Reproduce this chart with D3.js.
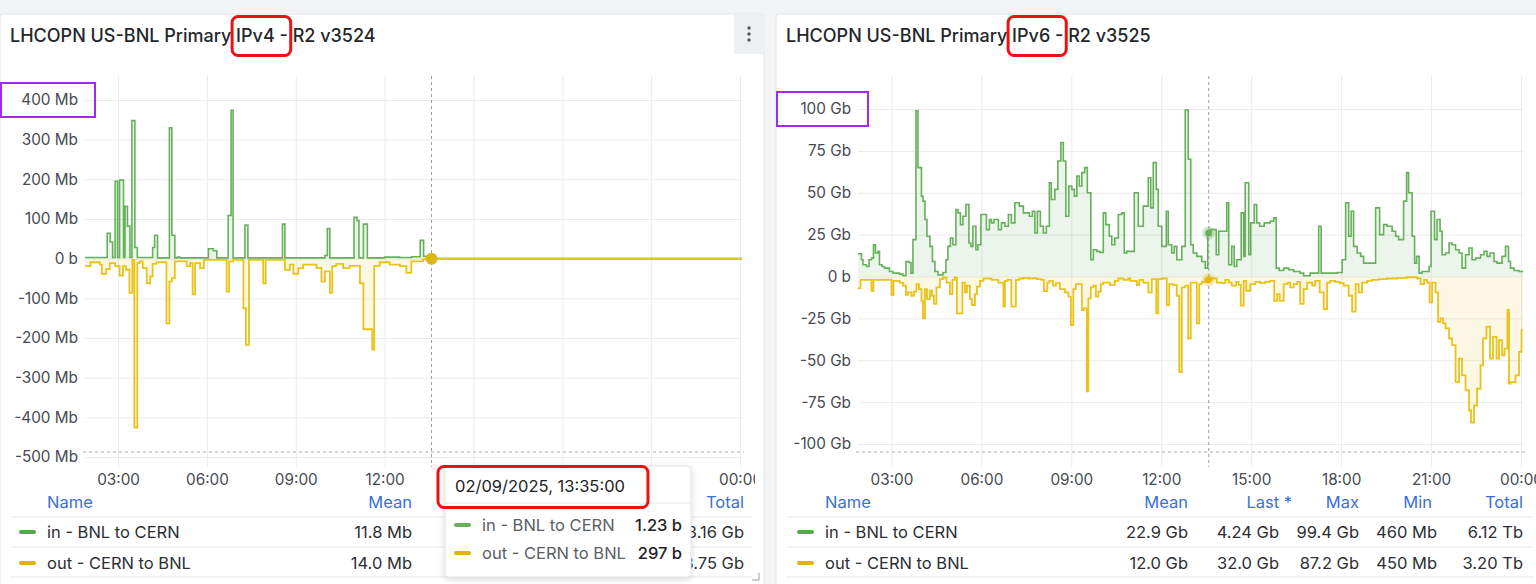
<!DOCTYPE html>
<html>
<head>
<meta charset="utf-8">
<script src="https://cdn.jsdelivr.net/npm/d3@7"></script>
<style>
  body { margin: 0; background: #f3f4f5; }
  svg { display: block; font-family: Inter, Roboto, "Noto Sans", sans-serif; }
</style>
</head>
<body>
<svg id="chart" width="1536" height="584"></svg>
<script>
// ---- data: [minutes after midnight on 02/09/2025, value] ----
// IPv4 panel, values in Mb (out is drawn below zero)
const inV4 = [[113,3],[158,64],[164,42],[169,3],[174,195],[179,3],[183,198],[191,3],[194,132],[199,82],[204,3],[208,348],[214,28],[219,3],[250,28],[254,59],[260,2],[284,330],[289,59],[295,2],[300,4],[305,2],[363,25],[373,20],[380,2],[403,109],[409,374],[413,2],[437,85],[443,2],[513,87],[518,2],[599,8],[604,76],[609,2],[658,104],[664,96],[668,2],[677,87],[685,2],[720,4],[750,3],[775,5],[792,46],[799,6],[806,3],[815,0],[1444,0]];
const outV4 = [[113,-19],[124,-9],[143,-15],[147,-38],[156,-26],[163,-11],[174,-19],[183,-43],[190,-19],[196,-28],[203,-86],[209,-3],[213,-426],[219,-11],[224,-7],[230,-24],[238,-62],[245,-45],[250,-13],[258,-9],[278,-163],[284,-58],[289,-49],[295,-7],[319,-19],[326,-11],[331,-90],[336,-11],[346,-24],[354,-3],[400,-83],[405,-7],[413,-3],[434,-125],[439,-217],[445,-3],[474,-62],[479,-3],[518,-28],[528,-15],[535,-38],[545,-24],[555,-15],[582,-24],[592,-58],[599,-32],[609,-86],[614,-19],[622,-13],[636,-24],[649,-18],[670,-62],[677,-178],[695,-229],[699,-18],[710,-9],[730,-15],[751,-19],[764,-36],[774,-7],[798,-1],[815,0],[1444,0]];

// IPv6 panel, values in Gb
const inV6 = [[113,13.6],[120,10],[123,7],[130,6],[135,10],[140,11],[144,19],[148,14],[153,15],[156,7],[161,6],[166,5],[176,3],[183,2],[196,1.4],[203,0.5],[209,9],[215,8.4],[219,2],[223,22],[229,99],[233,65],[240,48],[243,45],[247,34],[251,24],[257,18],[262,9],[267,3],[273,1],[283,2.4],[289,10],[293,18],[298,23],[303,19],[309,40],[313,38],[318,31],[323,36],[329,43],[335,20],[339,18],[343,30],[349,16],[353,19],[359,37],[370,28],[376,34],[380,32],[385,34],[394,28],[400,32],[407,30],[414,37],[420,32],[427,44],[436,42],[444,38],[456,36],[462,39],[467,26],[472,39],[478,30],[484,26],[490,30],[496,56],[500,46],[507,52],[513,69],[519,80],[524,69],[529,36],[535,54],[541,52],[546,48],[551,60],[556,54],[561,62],[567,65],[572,50],[579,10],[584,16],[591,15],[597,14.4],[604,38],[609,31],[616,24],[621,19],[627,23],[634,37],[641,38],[646,14],[651,15],[666,50],[674,30],[684,42],[694,59],[699,41],[704,68],[710,52],[714,30],[721,18],[730,39],[734,19],[741,14],[746,18],[751,10],[761,18],[768,99.4],[774,70],[779,19],[784,14],[791,12],[801,9],[808,5],[813,26],[818,28],[830,13],[835,27],[851,44],[855,7],[861,18],[866,6],[871,10],[880,38],[885,12],[888,56],[895,13],[899,32],[906,43],[911,32],[917,30],[926,32],[938,33],[945,35],[950,5],[956,3.6],[965,5],[975,4],[985,3],[998,2],[1005,0.46],[1018,2],[1035,30],[1040,2],[1072,2.4],[1082,10],[1089,44],[1095,24],[1100,39],[1105,18],[1112,14],[1119,12],[1125,8],[1149,41],[1157,25],[1165,31],[1172,30],[1182,27],[1189,24],[1195,22],[1205,45],[1211,62],[1215,50],[1222,24],[1227,8],[1231,12],[1236,2],[1242,3],[1256,6],[1260,39],[1267,22],[1272,34],[1278,27],[1282,13],[1289,14],[1296,20],[1302,19],[1309,16],[1316,14],[1322,5],[1329,13],[1336,17],[1342,10],[1349,11],[1359,13],[1366,15],[1372,12],[1378,14],[1386,9],[1392,8],[1402,12],[1409,18],[1415,9],[1419,5],[1426,3.6],[1436,3],[1444,3]];
const outV6 = [[113,-7],[118,-2],[140,-8.5],[144,-2],[180,-11],[184,-2.6],[196,-3.6],[203,-5.5],[209,-11],[213,-9.5],[220,-11.5],[225,-9],[230,-4.5],[235,-7.5],[240,-14.5],[243,-25],[247,-7.5],[251,-13.5],[257,-8.5],[261,-11.5],[265,-16.4],[270,-6.5],[277,-1.6],[283,-0.6],[290,-3.6],[297,-10.5],[302,-2],[307,-0.6],[311,-22],[322,-3.6],[327,-9.5],[331,-5.5],[337,-13.5],[341,-17],[347,-10.5],[351,-6],[357,-2.6],[364,-1.2],[380,-2],[394,-3.6],[404,-18],[407,-2.6],[412,-2],[420,-18],[429,-2],[436,-1.2],[444,-0.8],[454,-1.2],[464,-1],[470,-1.6],[480,-2],[485,-8.7],[492,-3.6],[496,-2.6],[503,-5.5],[509,-4],[517,-7.5],[527,-9.5],[534,-12],[539,-29],[544,-7.5],[549,-4.5],[561,-20],[565,-19],[571,-68.5],[574,-13],[579,-6.5],[584,-5.5],[589,-12],[594,-9],[599,-4.5],[604,-3.6],[617,-5.1],[627,-2.6],[634,-1.2],[644,-2],[654,-1.2],[658,-2.6],[671,-5.1],[676,-2],[684,-3.6],[694,-9.5],[701,-1.6],[710,-22],[714,-1.6],[721,-1.2],[731,-17],[736,-4.5],[743,-5],[751,-11.5],[756,-57],[761,-6.5],[768,-5.5],[774,-37],[779,-3.6],[791,-28],[796,-4.5],[801,-3.2],[808,-1.6],[813,-2],[821,-1.2],[831,-3.6],[841,-4],[848,-2],[855,-3.6],[861,-5.5],[870,-3.2],[875,-5],[879,-17.4],[885,-2.6],[890,-8.5],[898,-4.5],[908,-3.2],[918,-4],[928,-3.2],[938,-2.6],[946,-14.5],[952,-10.5],[957,-14.5],[965,-4.5],[973,-3.6],[978,-6.5],[985,-4.5],[992,-3.2],[998,-16.4],[1005,-7.5],[1012,-3.6],[1022,-5.5],[1028,-2.6],[1037,-9.5],[1045,-19.4],[1052,-3.6],[1058,-2.6],[1068,-3.2],[1077,-4],[1085,-5.5],[1095,-11.5],[1102,-21],[1109,-4.5],[1115,-9.5],[1122,-3.6],[1132,-2.6],[1142,-2],[1155,-1.6],[1172,-1.2],[1192,-0.8],[1212,-0.45],[1232,-1.2],[1239,-4.5],[1246,-2],[1252,-3.6],[1257,-15.4],[1262,-3.6],[1269,-9.5],[1274,-27],[1279,-25],[1284,-28],[1289,-31],[1296,-37],[1302,-41],[1309,-63],[1316,-49],[1322,-59],[1329,-68],[1336,-80],[1340,-87.2],[1346,-77],[1352,-67],[1359,-53],[1364,-37],[1371,-30],[1378,-49],[1384,-36],[1391,-49],[1396,-38],[1402,-47],[1407,-43],[1413,-20],[1416,-64],[1419,-63],[1429,-59],[1436,-45],[1441,-32],[1444,-32]];

const timeRange = [113, 1444];       // minutes shown on the x axis
const cursorMinute = 815;            // 13:35 hover
const ticksV4 = [400,300,200,100,0,-100,-200,-300,-400,-500];
const ticksV6 = [100,75,50,25,0,-25,-50,-75,-100];
const seriesNames = ['in - BNL to CERN', 'out - CERN to BNL'];

const colsV4 = ['Mean', 'Total'];
const statsInV4 = ['11.8 Mb', '3.16 Gb'];
const statsOutV4 = ['14.0 Mb', '3.75 Gb'];
const colsV6 = ['Mean', 'Last *', 'Max', 'Min', 'Total'];
const statsInV6 = ['22.9 Gb', '4.24 Gb', '99.4 Gb', '460 Mb', '6.12 Tb'];
const statsOutV6 = ['12.0 Gb', '32.0 Gb', '87.2 Gb', '450 Mb', '3.20 Tb'];

const tipTime = '02/09/2025, 13:35:00';
const tipValues = ['1.23 b', '297 b'];

// ---- drawing ----
const GREEN = '#66b05b', YELLOW = '#eac21c';
const TEXT = '#464a51', BLUE = '#3b70d9';
const FS = 16.5;   // legend / tooltip font size
const svg = d3.select('#chart');
const tm = m => new Date(2025, 8, 2, 0, m);

const defs = svg.append('defs');
defs.append('filter').attr('id','shadow').attr('x',-0.2).attr('y',-0.2).attr('width',1.4).attr('height',1.4)
  .append('feDropShadow').attr('dx',0).attr('dy',2).attr('stdDeviation',3).attr('flood-color','#000').attr('flood-opacity',0.15);

// width of a string in a given style
function textWidth(parent, s, size, weight){
  const t = parent.append('text').attr('font-size',size).attr('font-weight',weight).text(s);
  const w = t.node().getComputedTextLength();
  t.remove();
  return w;
}

function drawPanel(p){
  const g = svg.append('g');
  defs.append('clipPath').attr('id','panel-'+p.key).append('rect')
    .attr('x',p.left).attr('y',14).attr('width',p.clipRight-p.left).attr('height',584);
  defs.append('clipPath').attr('id','plot-'+p.key).append('rect')
    .attr('x',p.x0).attr('y',p.top).attr('width',p.x1-p.x0).attr('height',p.bottom-p.top);

  g.append('rect').attr('x',p.left).attr('y',14).attr('width',p.right-p.left).attr('height',590)
    .attr('rx',3).attr('fill','#fff').attr('stroke','#e3e4e7');
  const pg = g.append('g').attr('clip-path',`url(#panel-${p.key})`);

  // title
  const TS = 18, TW = 500;
  pg.append('text').attr('x',p.left+10).attr('y',35).attr('dominant-baseline','central')
    .attr('font-size',TS).attr('font-weight',TW).attr('fill','#24272b').text(p.title);

  const x = d3.scaleTime().domain(timeRange.map(tm)).range([p.x0, p.x1]);
  const y = d3.scaleLinear().domain(p.yDomain).range([p.yBottom, p.yTop]);

  // grid + axes
  const ya = pg.append('g').attr('transform',`translate(${p.x0},0)`)
    .call(d3.axisLeft(y).tickValues(p.ticks).tickSize(-(p.x1-p.x0)).tickPadding(7)
      .tickFormat(v => v === 0 ? '0 b' : v + ' ' + p.unit));
  const xa = pg.append('g').attr('transform',`translate(0,${p.bottom})`)
    .call(d3.axisBottom(x).ticks(d3.timeHour.every(3)).tickSize(-(p.bottom-p.top)).tickPadding(7)
      .tickFormat(d3.timeFormat('%H:%M')));
  [ya, xa].forEach(a => {
    a.select('.domain').remove();
    a.selectAll('line').attr('stroke','#ebebed');
    a.selectAll('text').attr('fill',TEXT).attr('font-size',15.3).attr('font-family','Inter, Roboto, sans-serif');
  });

  // series
  const plot = pg.append('g').attr('clip-path',`url(#plot-${p.key})`);
  const area = d3.area().curve(d3.curveStepAfter).x(d => x(tm(d[0]))).y0(y(0)).y1(d => y(d[1]));
  const line = d3.line().curve(d3.curveStepAfter).x(d => x(tm(d[0]))).y(d => y(d[1]));
  plot.append('path').datum(p.inData).attr('d',area).attr('fill',GREEN).attr('fill-opacity',0.12);
  plot.append('path').datum(p.outData).attr('d',area).attr('fill',YELLOW).attr('fill-opacity',0.12);
  plot.append('path').datum(p.inData).attr('d',line).attr('fill','none').attr('stroke',GREEN).attr('stroke-width',1.6);
  plot.append('path').datum(p.outData).attr('d',line).attr('fill','none').attr('stroke',YELLOW).attr('stroke-width',1.8);

  // crosshair
  const cx = x(tm(cursorMinute));
  pg.append('line').attr('x1',cx).attr('x2',cx).attr('y1',p.top).attr('y2',p.bottom)
    .attr('stroke','#9a9ca0').attr('stroke-dasharray','3,3');
  pg.append('line').attr('x1',p.x0-2).attr('x2',p.x1+2).attr('y1',452).attr('y2',452)
    .attr('stroke','#a8aaae').attr('stroke-dasharray','3,3');
  const valAt = data => data.filter(d => d[0] <= cursorMinute).pop()[1];
  if (p.bigDot) {
    pg.append('circle').attr('cx',cx).attr('cy',y(valAt(p.outData))).attr('r',6).attr('fill','#dcb614');
  } else {
    [[p.inData, GREEN],[p.outData, '#e7b70c']].forEach(([d,c]) => {
      pg.append('circle').attr('cx',cx).attr('cy',y(valAt(d))).attr('r',6.5).attr('fill',c).attr('opacity',0.3);
      pg.append('circle').attr('cx',cx).attr('cy',y(valAt(d))).attr('r',3.5).attr('fill',c);
    });
  }

  // legend table
  const lg = pg.append('g');
  lg.append('text').attr('x',p.left+p.nameX).attr('y',502).attr('dominant-baseline','central')
    .attr('fill',BLUE).attr('font-size',FS).text('Name');
  p.cols.forEach((c,i) => lg.append('text').attr('x',p.headX[i]).attr('y',502).attr('text-anchor','end')
    .attr('dominant-baseline','central').attr('fill',BLUE).attr('font-size',FS).text(c));
  [517,547,577].forEach(ly => lg.append('line').attr('x1',p.left+10).attr('x2',p.clipRight-3)
    .attr('y1',ly).attr('y2',ly).attr('stroke','#e6e7e9'));
  [[p.statsIn, '#56a64b'],[p.statsOut, '#e0b400']].forEach(([stats,dash],r) => {
    const ry = 532 + r*31;
    lg.append('line').attr('x1',p.left+p.nameX-26).attr('x2',p.left+p.nameX-13).attr('y1',ry).attr('y2',ry)
      .attr('stroke',dash).attr('stroke-width',4).attr('stroke-linecap','round');
    lg.append('text').attr('x',p.left+p.nameX).attr('y',ry).attr('dominant-baseline','central')
      .attr('fill','#2b2f34').attr('font-size',FS).text(seriesNames[r]);
    stats.forEach((s,i) => lg.append('text').attr('x',p.valX[i]).attr('y',ry).attr('text-anchor','end')
      .attr('dominant-baseline','central').attr('fill','#2b2f34').attr('font-size',FS).text(s));
  });

  // annotation boxes: red around the IP version in the title, purple around the top y label
  const pre = p.title.slice(0, p.title.indexOf(p.mark) + p.mark.length);
  const markW = textWidth(pg, p.mark, TS, TW);
  const markX = p.left + 10 + textWidth(pg, pre, TS, TW) - markW;
  pg.append('rect').attr('x',markX-4).attr('y',16.5).attr('width',markW+20).attr('height',39)
    .attr('rx',6).attr('fill','none').attr('stroke','#ee1111').attr('stroke-width',3);
  const topLabel = ya.selectAll('.tick').filter(d => d === p.ticks[0]).select('text').node();
  const tb = topLabel.getBBox();
  const cy = y(p.ticks[0]);
  const labelRight = p.x0 + tb.x + tb.width;
  pg.append('rect').attr('x',p.left+1).attr('y',cy-17)
    .attr('width',labelRight - p.left + 16).attr('height',34)
    .attr('fill','none').attr('stroke','#a22af0').attr('stroke-width',2);

  return {x, y};
}

drawPanel({key:'v4', title:'LHCOPN US-BNL Primary IPv4 - R2 v3524', mark:'IPv4',
  left:0, right:764, clipRight:755, x0:85, x1:742, top:76, bottom:467,
  yDomain:[-500,400], yBottom:457, yTop:100, ticks:ticksV4, unit:'Mb',
  inData:inV4, outData:outV4, bigDot:true,
  nameX:47, cols:colsV4, headX:[412,744], valX:[412,744], statsIn:statsInV4, statsOut:statsOutV4});

drawPanel({key:'v6', title:'LHCOPN US-BNL Primary IPv6 - R2 v3525', mark:'IPv6',
  left:776, right:1545, clipRight:1536, x0:858, x1:1523, top:76, bottom:467,
  yDomain:[-100,100], yBottom:444, yTop:109, ticks:ticksV6, unit:'Gb',
  inData:inV6, outData:outV6, bigDot:false,
  nameX:49, cols:colsV6, headX:[1188,1292,1359,1432,1523], valX:[1188,1279,1359,1437,1523],
  statsIn:statsInV6, statsOut:statsOutV6});

// panel menu button (IPv4 panel) and resize corner
svg.append('rect').attr('x',734).attr('y',15).attr('width',29).attr('height',39).attr('fill','#eeeff1');
[28,34,40].forEach(cy => svg.append('circle').attr('cx',749).attr('cy',cy).attr('r',1.7).attr('fill','#53575d'));
svg.append('path').attr('d','M752,580 H759 V573').attr('fill','none').attr('stroke','#9b9ea3').attr('stroke-width',1);

// hover tooltip
const tip = svg.append('g');
tip.append('rect').attr('x',445).attr('y',466).attr('width',246).attr('height',111).attr('rx',3)
  .attr('fill','#fff').attr('stroke','#e2e3e5').attr('filter','url(#shadow)');
const tipHead = tip.append('text').attr('x',455).attr('y',486).attr('dominant-baseline','central')
  .attr('font-size',FS).attr('font-weight',400).attr('fill','#202226').text(tipTime);
tip.append('line').attr('x1',445).attr('x2',691).attr('y1',503).attr('y2',503).attr('stroke','#e4e5e7');
[GREEN, '#e0b400'].forEach((c,i) => {
  const ry = 525 + i*28;
  tip.append('line').attr('x1',456).attr('x2',469).attr('y1',ry).attr('y2',ry)
    .attr('stroke',c).attr('stroke-width',4).attr('stroke-linecap','round');
  tip.append('text').attr('x',482).attr('y',ry).attr('dominant-baseline','central')
    .attr('font-size',FS).attr('fill','#5b5f66').text(seriesNames[i]);
  tip.append('text').attr('x',682).attr('y',ry).attr('text-anchor','end').attr('dominant-baseline','central')
    .attr('font-size',FS).attr('font-weight',500).attr('fill','#202226').text(tipValues[i]);
});
const hb = tipHead.node().getBBox();
tip.append('rect').attr('x',hb.x-17).attr('y',466.5).attr('width',hb.width+40).attr('height',41)
  .attr('rx',6).attr('fill','none').attr('stroke','#ee1111').attr('stroke-width',3);
</script>
</body>
</html>
